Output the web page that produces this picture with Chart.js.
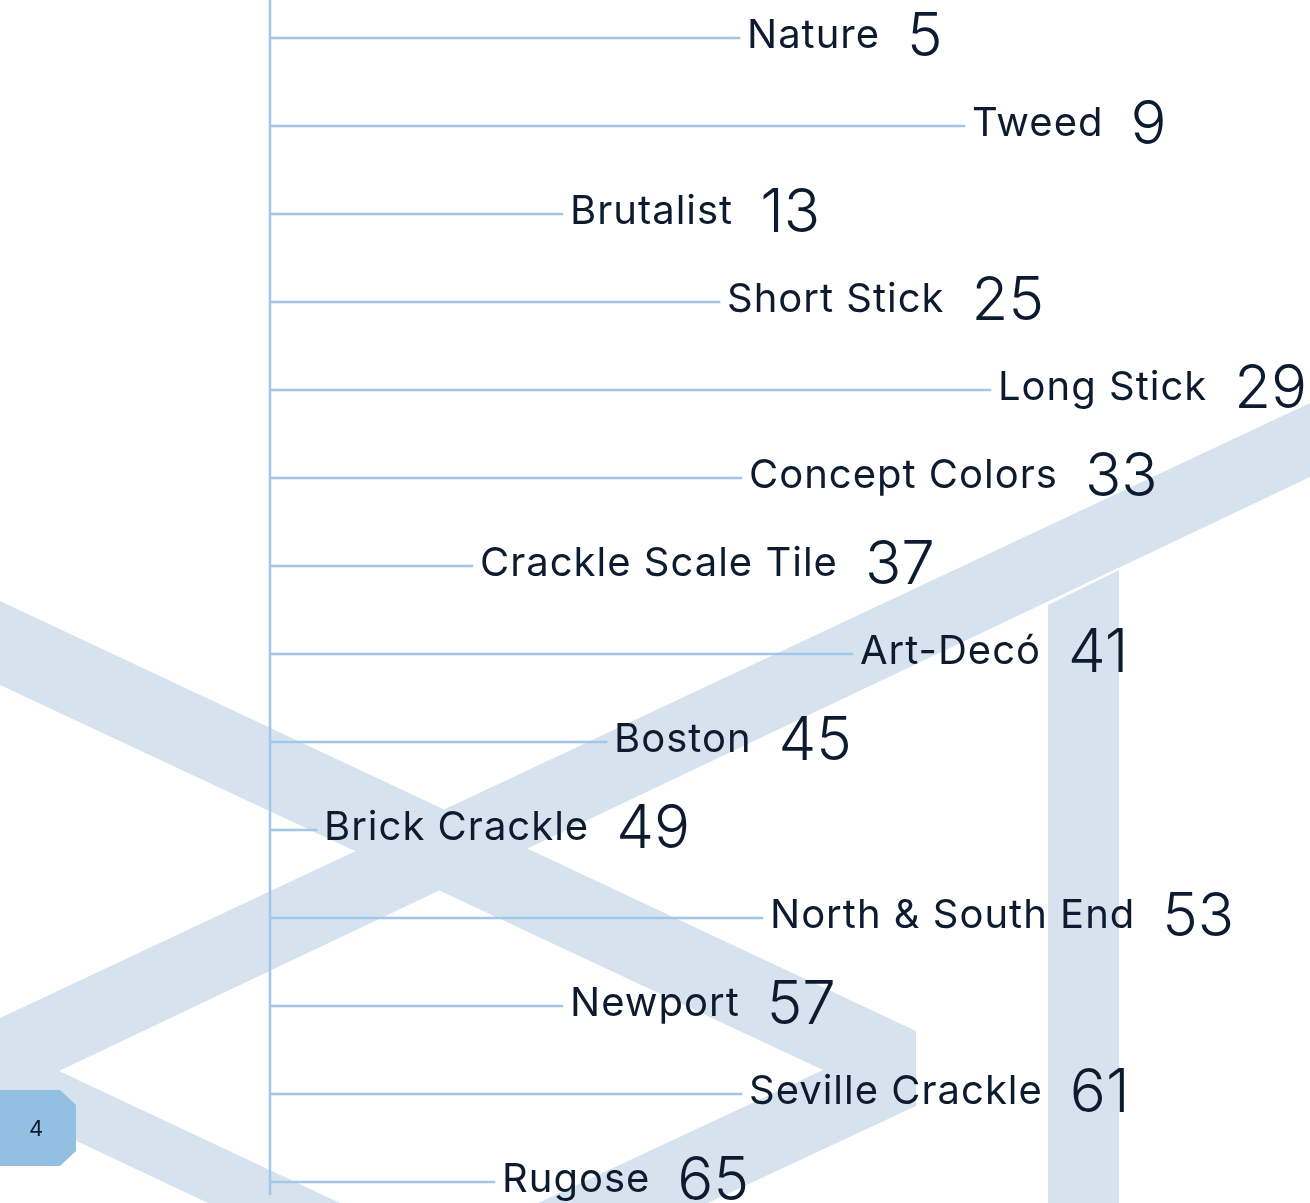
<!DOCTYPE html>
<html>
<head>
<meta charset="utf-8">
<script src="https://cdn.jsdelivr.net/npm/chart.js@4.4.0/dist/chart.umd.min.js"></script>
<style>
  html, body { margin:0; padding:0; background:#fff; overflow:hidden; }
  body { width:1310px; height:1203px; position:relative; }
  #wrap { position:absolute; left:0; top:-6px; width:1310px; height:1232px; }
</style>
</head>
<body>
<div id="wrap"><canvas id="texture-index"></canvas></div>
<script>
// texture names, their page numbers and the length of each leader line
var categories = ["Nature","Tweed","Brutalist","Short Stick","Long Stick","Concept Colors","Crackle Scale Tile","Art-Decó","Boston","Brick Crackle","North & South End","Newport","Seville Crackle","Rugose"];
var pageNumbers = [5,9,13,25,29,33,37,41,45,49,53,57,61,65];
var leaderLengths = [470,695,293,450,721,472,203,583,337,47,493,293,472,225];
var pageLabel = "4";

var lineColor = "#a2c7e9";
var bandColor = "#d6e3ef";
var textColor = "#0c1b2f";

// decorative background (page coords)
var backdrop = {
      id: "backdrop",
      beforeDraw: function(chart){
            var ctx = chart.ctx;
            ctx.save();
            ctx.translate(0, 6);
            ctx.fillStyle = bandColor;
            // "<" chevron with long rising arm
            ctx.beginPath();
            ctx.moveTo(0,1018); ctx.lineTo(1310,403); ctx.lineTo(1310,477);
            ctx.lineTo(59,1071); ctx.lineTo(340,1203); ctx.lineTo(208,1203);
            ctx.lineTo(0,1105); ctx.closePath(); ctx.fill();
            // ">" chevron
            ctx.beginPath();
            ctx.moveTo(0,601); ctx.lineTo(916,1031); ctx.lineTo(916,1106);
            ctx.lineTo(708,1203); ctx.lineTo(538,1203); ctx.lineTo(823,1070);
            ctx.lineTo(0,685); ctx.closePath(); ctx.fill();
            // vertical bar
            ctx.beginPath();
            ctx.moveTo(1048,605); ctx.lineTo(1119,570); ctx.lineTo(1119,1203); ctx.lineTo(1048,1203);
            ctx.closePath(); ctx.fill();
            // page number tab
            ctx.fillStyle = "#93bfe2";
            ctx.beginPath();
            ctx.moveTo(0,1090); ctx.lineTo(60,1090); ctx.lineTo(76,1105); ctx.lineTo(76,1151);
            ctx.lineTo(60,1166); ctx.lineTo(0,1166); ctx.closePath(); ctx.fill();
            ctx.fillStyle = textColor;
            ctx.font = "22px Inter";
            ctx.textAlign = "center";
            ctx.textBaseline = "middle";
            ctx.fillText(pageLabel, 36, 1129);
            ctx.restore();
      }
};

var leaderText = {
      id: "leaderText",
      afterDatasetsDraw: function(chart){
            var ctx = chart.ctx;
            var area = chart.chartArea;
            var bars = chart.getDatasetMeta(0).data;
            ctx.save();
            // vertical spine
            ctx.strokeStyle = lineColor;
            ctx.lineWidth = 2.5;
            ctx.beginPath();
            ctx.moveTo(area.left, 0);
            ctx.lineTo(area.left, bars[bars.length-1].y + 13);
            ctx.stroke();

            ctx.fillStyle = textColor;
            ctx.textBaseline = "alphabetic";
            ctx.textAlign = "left";
            for(var i in bars){
                  var b = bars[i];
                  ctx.font = "400 40px Inter";
                  ctx.letterSpacing = "1px";
                  var x = b.x + 7;
                  ctx.fillText(categories[i], x, b.y + 10);
                  var w = ctx.measureText(categories[i]).width;
                  ctx.font = "300 60px Inter";
                  ctx.letterSpacing = "0px";
                  ctx.fillText(String(pageNumbers[i]), x + w + 27, b.y + 18);
            }
            ctx.restore();
      }
};

var ctx1 = document.getElementById("texture-index");
var indexChart = new Chart(ctx1, {
      type: "bar",
      data: {
            labels: categories,
            datasets: [{
                  data: leaderLengths,
                  backgroundColor: lineColor,
                  borderWidth: 0,
                  barThickness: 2
            }]
      },
      options: {
            indexAxis: "y",
            responsive: true,
            maintainAspectRatio: false,
            animation: false,
            layout: { padding: { left: 270, right: 0, top: 0, bottom: 0 } },
            plugins: { legend: { display: false }, tooltip: { enabled: false } },
            scales: {
                  x: { display: false, min: 0, max: 1040 },
                  y: { display: false }
            }
      },
      plugins: [backdrop, leaderText]
});
</script>
</body>
</html>
